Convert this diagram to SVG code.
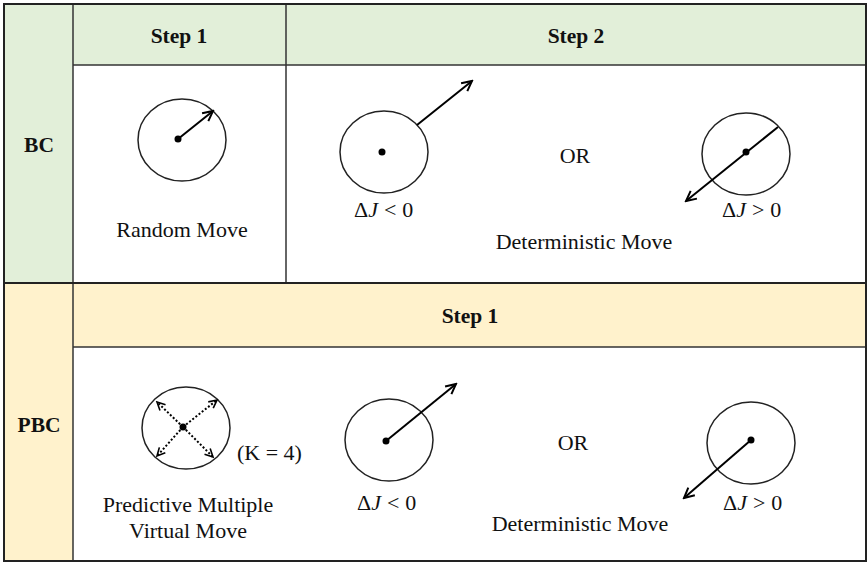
<svg xmlns="http://www.w3.org/2000/svg" width="868" height="562" viewBox="0 0 868 562">
<style>
.t{font-family:"Liberation Serif","Times New Roman",serif;font-size:22px;fill:#111}
.b{font-weight:bold;font-size:21.5px}
.m{font-family:"Liberation Serif","Times New Roman",serif;font-size:22px;fill:#111}
.c{fill:none;stroke:#222;stroke-width:1.5}
.g{fill:#e2efd9}
.y{fill:#fff2cc}
.ln{stroke:#333;stroke-width:1.5;fill:none}
.a{stroke:#000;stroke-width:2;fill:none;marker-end:url(#ah)}
.d{stroke:#000;stroke-width:2;fill:none;stroke-dasharray:2 2;marker-end:url(#ah2)}
</style>
<defs>
<marker id="ah" viewBox="-12 -7 14 14" markerWidth="14" markerHeight="14" refX="0" refY="0" orient="auto" markerUnits="userSpaceOnUse"><path d="M-10,-5 L0,0 L-10,5" fill="none" stroke="#000" stroke-width="2"/></marker>
<marker id="ah2" viewBox="-12 -7 14 14" markerWidth="14" markerHeight="14" refX="0" refY="0" orient="auto" markerUnits="userSpaceOnUse"><path d="M-8,-4 L0,0 L-8,4" fill="none" stroke="#000" stroke-width="1.6"/></marker>
</defs>
<rect x="0" y="0" width="868" height="562" fill="#fff"/>
<g id="table">
<rect class="g" x="4" y="4" width="69" height="279"/>
<rect class="g" x="73" y="4" width="793" height="61"/>
<rect class="y" x="4" y="283" width="69" height="278"/>
<rect class="y" x="73" y="283" width="793" height="64"/>
<line class="ln" x1="73" y1="4" x2="73" y2="561"/>
<line class="ln" x1="286" y1="4" x2="286" y2="283"/>
<line class="ln" x1="73" y1="65" x2="866" y2="65"/>
<line class="ln" x1="73" y1="347" x2="866" y2="347"/>
<line stroke="#222" stroke-width="2" x1="4" y1="283" x2="866" y2="283"/>
<rect x="4" y="4" width="862" height="557" fill="none" stroke="#222" stroke-width="2"/>
</g>
<g id="headers">
<text class="t b" x="179" y="43" text-anchor="middle">Step 1</text>
<text class="t b" x="576" y="43" text-anchor="middle">Step 2</text>
<text class="t b" x="470" y="323" text-anchor="middle">Step 1</text>
<text class="t b" x="39" y="152" text-anchor="middle">BC</text>
<text class="t b" x="39" y="432" text-anchor="middle">PBC</text>
</g>
<g id="bc-step1">
<ellipse class="c" cx="182" cy="140" rx="44" ry="41"/>
<circle cx="178" cy="139" r="3.5" fill="#000"/>
<text class="t" x="182" y="237" text-anchor="middle">Random Move</text>
</g>
<g id="bc-step2">
<ellipse class="c" cx="384" cy="152" rx="44" ry="41"/>
<circle cx="382" cy="152" r="3.5" fill="#000"/>
<text class="m" x="354" y="217">Δ<tspan font-style="italic">J</tspan><tspan dx="6">&lt;</tspan><tspan dx="6">0</tspan></text>
<text class="t" x="575" y="163" text-anchor="middle">OR</text>
<ellipse class="c" cx="746" cy="154" rx="44" ry="41"/>
<circle cx="746" cy="152" r="3.5" fill="#000"/>
<text class="m" x="722" y="217">Δ<tspan font-style="italic">J</tspan><tspan dx="6">&gt;</tspan><tspan dx="6">0</tspan></text>
<text class="t" x="584" y="249" text-anchor="middle">Deterministic Move</text>
</g>
<g id="pbc-step1">
<ellipse class="c" cx="186" cy="428" rx="44" ry="41"/>
<circle cx="183" cy="427" r="3.5" fill="#000"/>
<text class="t" x="237" y="460">(K = 4)</text>
<text class="t" x="188" y="512" text-anchor="middle">Predictive Multiple</text>
<text class="t" x="188" y="538" text-anchor="middle">Virtual Move</text>
<ellipse class="c" cx="389" cy="440" rx="44" ry="41"/>
<circle cx="386" cy="441" r="3.5" fill="#000"/>
<text class="m" x="357" y="510">Δ<tspan font-style="italic">J</tspan><tspan dx="6">&lt;</tspan><tspan dx="6">0</tspan></text>
<text class="t" x="573" y="450" text-anchor="middle">OR</text>
<ellipse class="c" cx="751" cy="443" rx="44" ry="41"/>
<circle cx="751" cy="440" r="3.5" fill="#000"/>
<text class="m" x="723" y="510">Δ<tspan font-style="italic">J</tspan><tspan dx="6">&gt;</tspan><tspan dx="6">0</tspan></text>
<text class="t" x="580" y="531" text-anchor="middle">Deterministic Move</text>
</g>
<g id="connectors">
<line class="a" x1="178" y1="139" x2="213" y2="111"/>
<line class="a" x1="417" y1="125" x2="472" y2="81"/>
<line class="a" x1="778" y1="127" x2="686" y2="201"/>
<line class="d" x1="183" y1="427" x2="157" y2="402"/>
<line class="d" x1="183" y1="427" x2="217" y2="400"/>
<line class="d" x1="183" y1="427" x2="157" y2="456"/>
<line class="d" x1="183" y1="427" x2="213" y2="457"/>
<line class="a" x1="386" y1="441" x2="456" y2="384"/>
<line class="a" x1="751" y1="440" x2="684" y2="498"/>
</g>
</svg>
